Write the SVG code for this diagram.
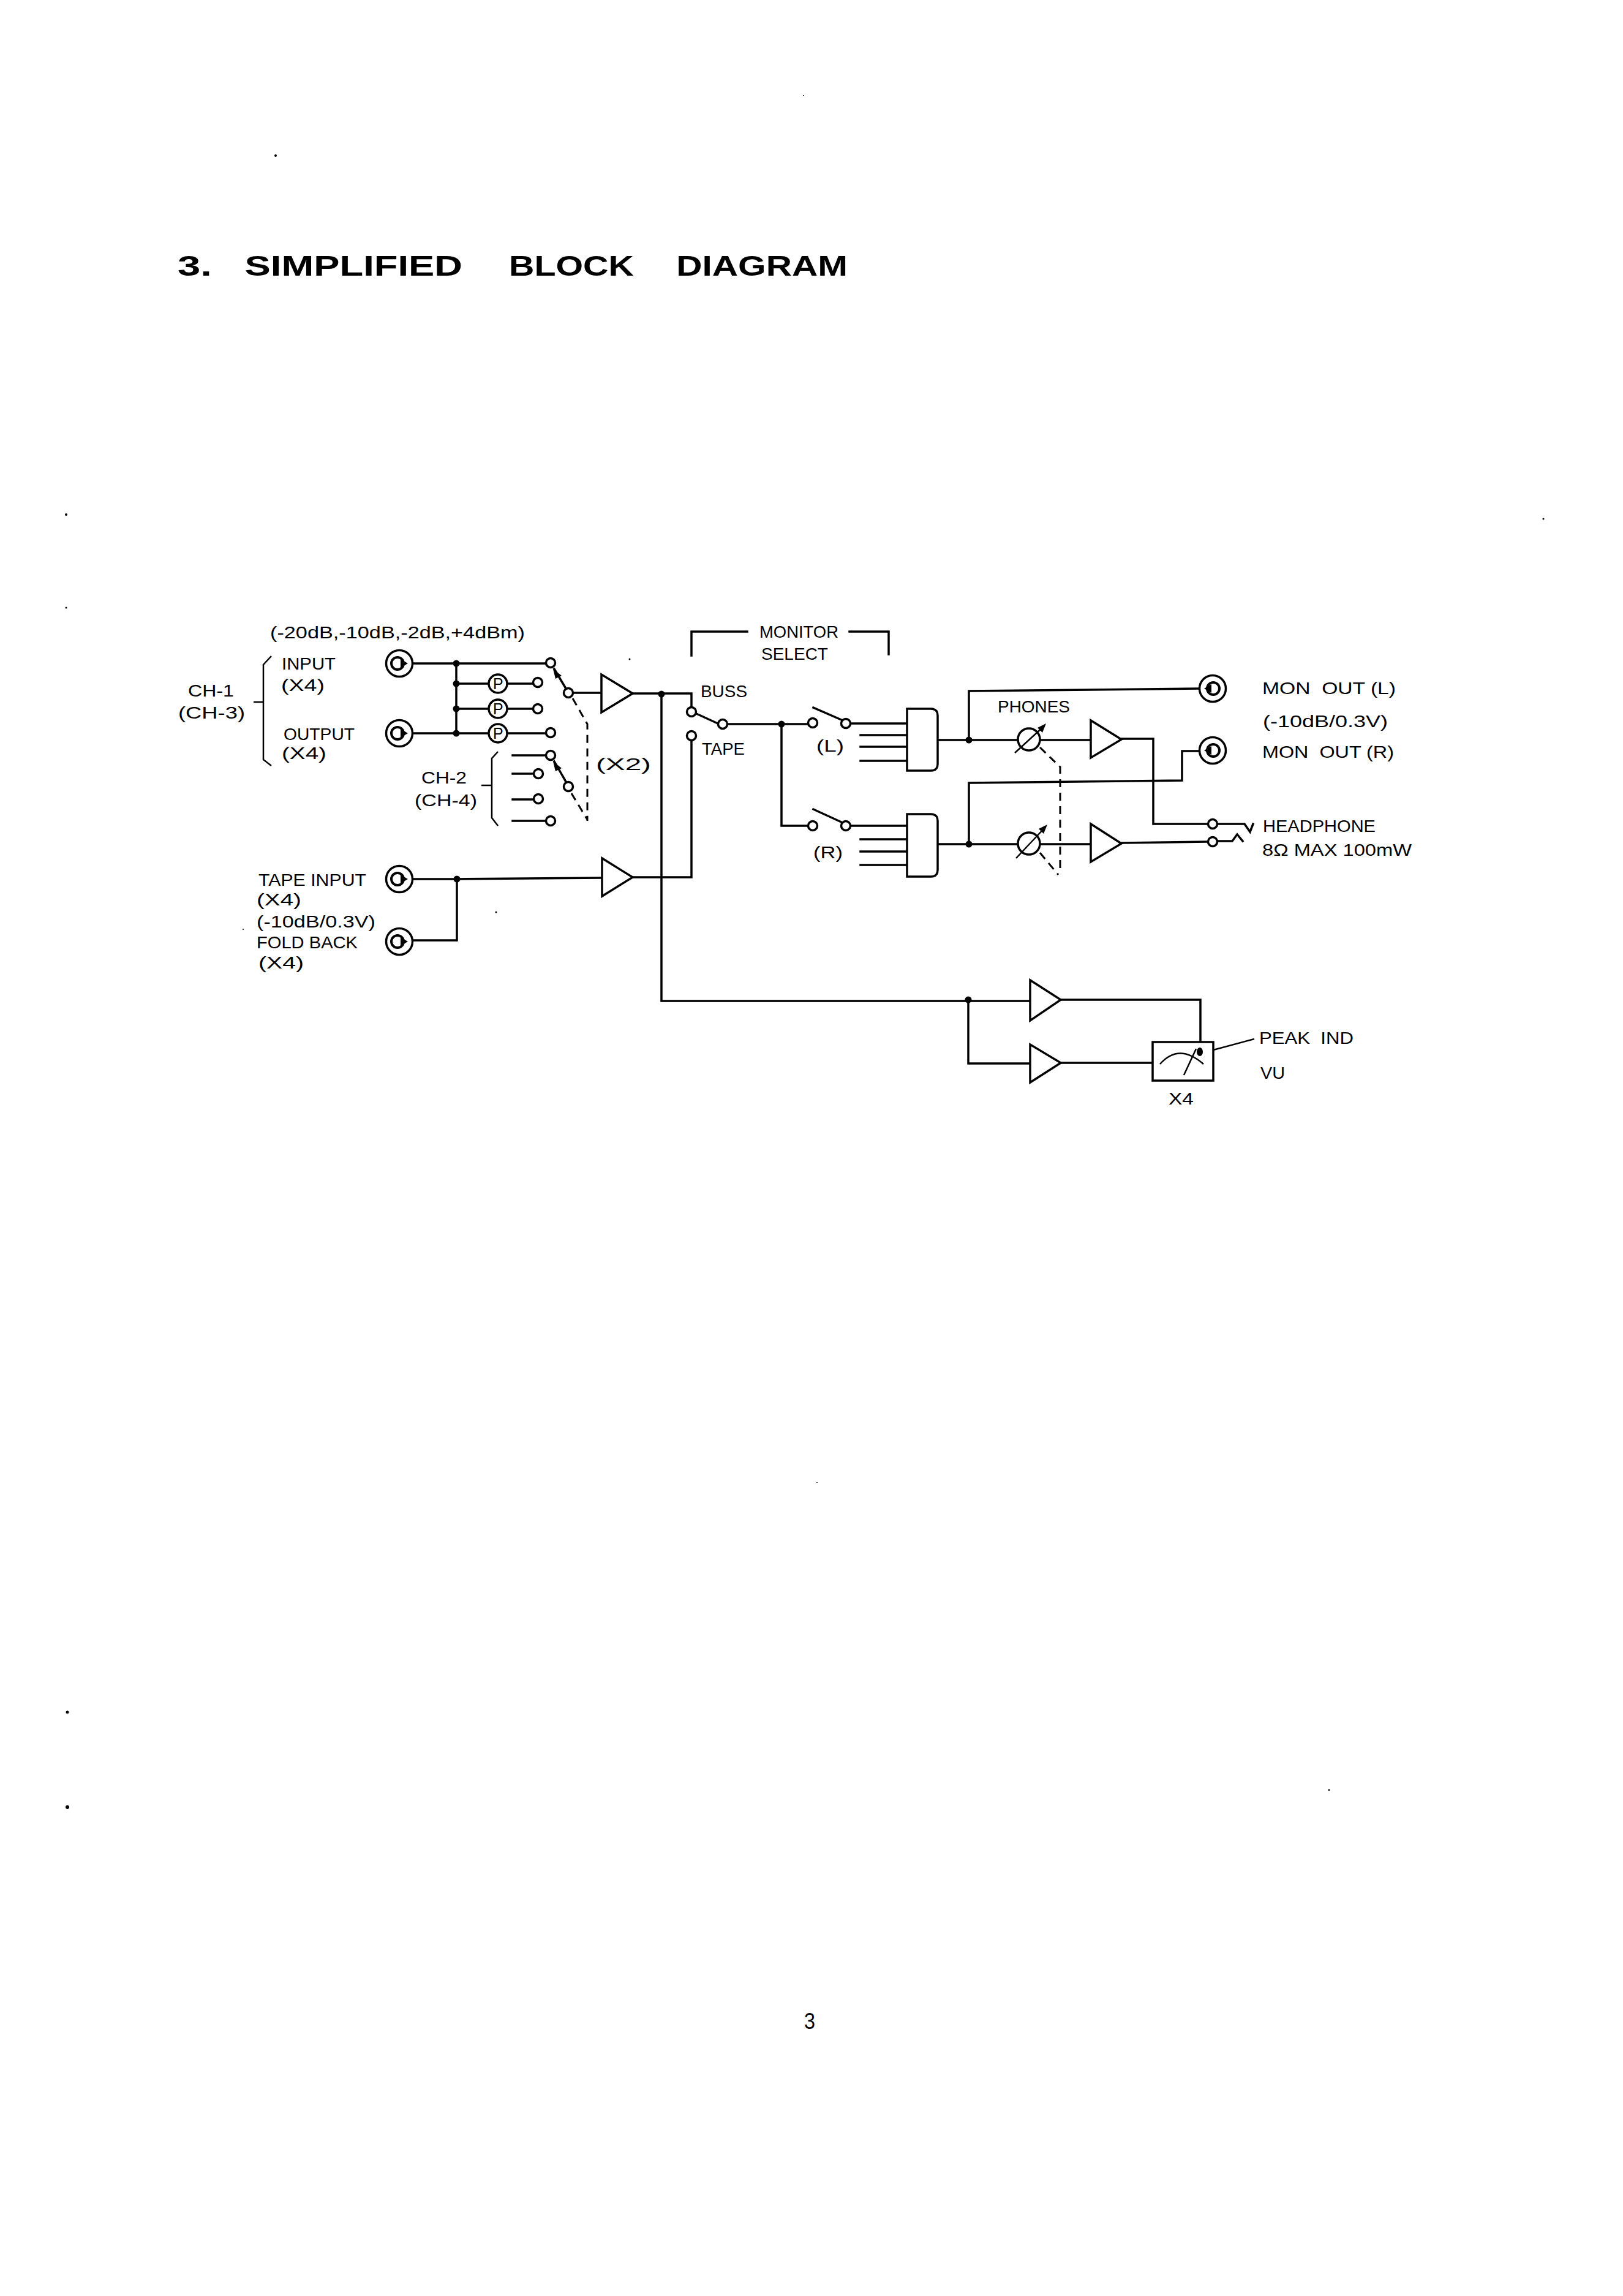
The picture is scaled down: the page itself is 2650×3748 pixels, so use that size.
<svg xmlns="http://www.w3.org/2000/svg" width="2650" height="3748" viewBox="0 0 2650 3748">
<style>
text{font-family:"Liberation Sans",Arial,sans-serif;font-size:28px;fill:#000;white-space:pre}
.title{font-size:47px;font-weight:700}
.w{fill:none;stroke:#000;stroke-width:3.5;stroke-linejoin:miter;stroke-linecap:square}
.thin{fill:none;stroke:#000;stroke-width:2.5}
.d{fill:none;stroke:#000;stroke-width:3;stroke-dasharray:13 9}
.o{fill:#fff;stroke:#000;stroke-width:3.5}
.n{fill:none;stroke:#000;stroke-width:4}
.b{fill:#000}
</style>
<defs>
<g id="jackIn"><circle r="21.5" class="o"/><circle cx="-3" r="10" class="n"/><path d="M2-7L14 0L2 7Z" class="b"/></g>
<g id="jackOut"><circle r="21.5" class="o"/><circle cx="1" r="10" class="n"/><path d="M-2-7L-14 0L-2 7Z" class="b"/></g>
<circle id="c" r="7.5" class="o"/>
<circle id="j" r="5.5" class="b"/>
<g id="pad"><circle r="15" class="o"/><text x="-8" y="9" style="font-size:25px">P</text></g>
<g id="pot"><ellipse rx="18" ry="18" class="o"/></g>
</defs>
<g id="title"><text class="title" y="450"><tspan x="290" textLength="56" lengthAdjust="spacingAndGlyphs">3.</tspan><tspan x="382" dx="0" textLength="373" lengthAdjust="spacingAndGlyphs"> SIMPLIFIED</tspan><tspan x="815" textLength="220" lengthAdjust="spacingAndGlyphs"> BLOCK</tspan><tspan x="1088" textLength="296" lengthAdjust="spacingAndGlyphs"> DIAGRAM</tspan></text></g>

<g id="connectors">
<path class="w" d="M652 1083H891M745 1083V1197M745 1116H878M745 1157H878M652 1197H891"/>
<path class="w" d="M905 1092L924 1124M936 1131H982M1033 1132H1129V1154M1129 1209V1432H1033"/>
<path class="w" d="M837 1233H891M837 1263H871M837 1305H871M837 1340H891M905 1243L924 1276"/>
<path class="w" d="M652 1435L745 1435L983 1433M674 1535H746V1435"/>
<path class="w" d="M1080 1133V1634H1682M1581 1632V1736H1682M1732 1632H1960V1717M1732 1735H1882"/>
<path class="w" d="M1137 1165L1172 1181M1188 1182H1319M1276 1182V1348H1319M1328 1155L1376 1176M1328 1321L1376 1343"/>
<path class="w" d="M1389 1181H1481M1405 1200H1481M1405 1219H1481M1405 1242H1481M1389 1348H1481M1405 1370H1481M1405 1390H1481M1405 1412H1481"/>
<path class="w" d="M1531 1208H1781M1531 1378H1781M1582 1208V1128L1958 1124M1582 1378V1278L1930 1274V1226H1958"/>
<path class="w" d="M1832 1206H1883V1345H1972M1832 1376L1972 1374M1988 1345H2032L2041 1358L2046 1345M1988 1373H2012L2020 1362L2029 1373"/>
<path class="d" d="M935 1140L959 1182V1340M933 1295L959 1338"/>
<path class="d" d="M1698 1220L1731 1252V1425M1698 1392L1728 1428"/>
<path class="thin" d="M1981 1714L2048 1696"/>
</g>

<g id="jack-input"><use href="#jackIn" x="652" y="1083"/></g>
<g id="jack-output"><use href="#jackIn" x="652" y="1197"/></g>
<g id="jack-tape"><use href="#jackIn" x="652" y="1435"/></g>
<g id="jack-foldback"><use href="#jackIn" x="652" y="1537"/></g>
<g id="jack-mon-l"><use href="#jackOut" x="1980" y="1124"/></g>
<g id="jack-mon-r"><use href="#jackOut" x="1980" y="1225"/></g>

<g id="junctions">
<use href="#j" x="745" y="1083"/><use href="#j" x="745" y="1116"/><use href="#j" x="745" y="1157"/><use href="#j" x="745" y="1197"/>
<use href="#j" x="746" y="1435"/><use href="#j" x="1080" y="1133"/><use href="#j" x="1276" y="1182"/><use href="#j" x="1582" y="1208"/><use href="#j" x="1582" y="1378"/><use href="#j" x="1581" y="1632"/>
</g>

<g id="pad1"><use href="#pad" x="813" y="1116"/></g>
<g id="pad2"><use href="#pad" x="813" y="1157"/></g>
<g id="pad3"><use href="#pad" x="813" y="1197"/></g>

<g id="switch-ch1">
<use href="#c" x="899" y="1082"/><use href="#c" x="878" y="1114"/><use href="#c" x="878" y="1157"/><use href="#c" x="899" y="1196"/><use href="#c" x="928" y="1131"/>
<path class="b" d="M903 1092L907 1108L917 1103Z"/>
</g>
<g id="switch-ch2">
<use href="#c" x="899" y="1233"/><use href="#c" x="879" y="1263"/><use href="#c" x="879" y="1304"/><use href="#c" x="899" y="1340"/><use href="#c" x="928" y="1284"/>
<path class="b" d="M903 1243L907 1259L917 1254Z"/>
</g>
<g id="brace-ch1"><path class="thin" d="M443 1071L430 1085V1240L443 1250M414 1146H430"/></g>
<g id="brace-ch2"><path class="thin" d="M813 1227L803 1238V1335L813 1348M786 1282H803"/></g>

<g id="amp-input"><path class="o" d="M982 1101V1163L1033 1132Z"/></g>
<g id="amp-tape"><path class="o" d="M983 1401V1463L1033 1432Z"/></g>
<g id="amp-phones-l"><path class="o" d="M1781 1176V1237L1831 1207Z"/></g>
<g id="amp-phones-r"><path class="o" d="M1781 1345V1407L1831 1377Z"/></g>
<g id="amp-peak"><path class="o" d="M1682 1600V1666L1732 1632Z"/></g>
<g id="amp-vu"><path class="o" d="M1682 1705V1767L1732 1735Z"/></g>

<g id="monitor-bracket"><path class="w" d="M1129 1070V1031H1220M1387 1031H1451V1068"/></g>
<g id="monitor-select-switch"><use href="#c" x="1129" y="1162"/><use href="#c" x="1129" y="1201"/><use href="#c" x="1180" y="1182"/></g>
<g id="switch-l"><use href="#c" x="1327" y="1180"/><use href="#c" x="1381" y="1181"/></g>
<g id="switch-r"><use href="#c" x="1327" y="1348"/><use href="#c" x="1381" y="1348"/></g>
<g id="mix-l"><path class="o" d="M1481 1157H1520Q1531 1157 1531 1168V1247Q1531 1258 1520 1258H1481Z"/></g>
<g id="mix-r"><path class="o" d="M1481 1329H1520Q1531 1329 1531 1340V1420Q1531 1431 1520 1431H1481Z"/></g>
<g id="pot-l"><use href="#pot" x="1680" y="1207"/><path class="thin" d="M1657 1229L1705 1185"/><path class="b" d="M1708 1181L1694 1188L1702 1196Z"/></g>
<g id="pot-r"><use href="#pot" x="1680" y="1377"/><path class="thin" d="M1659 1401L1707 1350"/><path class="b" d="M1710 1346L1696 1353L1704 1361Z"/></g>
<g id="hp-contacts"><use href="#c" x="1980" y="1345"/><use href="#c" x="1980" y="1374"/></g>
<g id="vu-meter"><rect x="1882" y="1701" width="99" height="63" class="o"/><path class="thin" d="M1894 1737Q1925 1702 1965 1737M1933 1755L1953 1712"/><ellipse cx="1959" cy="1717" rx="5" ry="7" class="b"/></g>

<g id="labels">
<text x="441" y="1042" textLength="416" lengthAdjust="spacingAndGlyphs">(-20dB,-10dB,-2dB,+4dBm)</text>
<text x="460" y="1093" textLength="88" lengthAdjust="spacingAndGlyphs">INPUT</text>
<text x="459" y="1128" textLength="71" lengthAdjust="spacingAndGlyphs">(X4)</text>
<text x="307" y="1137" textLength="75" lengthAdjust="spacingAndGlyphs">CH-1</text>
<text x="291" y="1173" textLength="109" lengthAdjust="spacingAndGlyphs">(CH-3)</text>
<text x="463" y="1208" textLength="116" lengthAdjust="spacingAndGlyphs">OUTPUT</text>
<text x="460" y="1239" textLength="73" lengthAdjust="spacingAndGlyphs">(X4)</text>
<text x="688" y="1279" textLength="74" lengthAdjust="spacingAndGlyphs">CH-2</text>
<text x="677" y="1316" textLength="102" lengthAdjust="spacingAndGlyphs">(CH-4)</text>
<text x="973" y="1257" textLength="90" lengthAdjust="spacingAndGlyphs">(X2)</text>
<text x="422" y="1446" textLength="176" lengthAdjust="spacingAndGlyphs">TAPE INPUT</text>
<text x="419" y="1478" textLength="73" lengthAdjust="spacingAndGlyphs">(X4)</text>
<text x="419" y="1514" textLength="194" lengthAdjust="spacingAndGlyphs">(-10dB/0.3V)</text>
<text x="419" y="1548" textLength="165" lengthAdjust="spacingAndGlyphs">FOLD BACK</text>
<text x="422" y="1581" textLength="74" lengthAdjust="spacingAndGlyphs">(X4)</text>
<text x="1240" y="1041" textLength="129" lengthAdjust="spacingAndGlyphs">MONITOR</text>
<text x="1243" y="1077" textLength="109" lengthAdjust="spacingAndGlyphs">SELECT</text>
<text x="1144" y="1138" textLength="76" lengthAdjust="spacingAndGlyphs">BUSS</text>
<text x="1146" y="1232" textLength="70" lengthAdjust="spacingAndGlyphs">TAPE</text>
<text x="1333" y="1227" textLength="45" lengthAdjust="spacingAndGlyphs">(L)</text>
<text x="1328" y="1401" textLength="48" lengthAdjust="spacingAndGlyphs">(R)</text>
<text x="1629" y="1163" textLength="118" lengthAdjust="spacingAndGlyphs">PHONES</text>
<text x="2061" y="1133" textLength="218" lengthAdjust="spacingAndGlyphs">MON  OUT (L)</text>
<text x="2062" y="1187" textLength="204" lengthAdjust="spacingAndGlyphs">(-10dB/0.3V)</text>
<text x="2061" y="1237" textLength="215" lengthAdjust="spacingAndGlyphs">MON  OUT (R)</text>
<text x="2062" y="1358" textLength="184" lengthAdjust="spacingAndGlyphs">HEADPHONE</text>
<text x="2061" y="1397" textLength="244" lengthAdjust="spacingAndGlyphs">8Ω MAX 100mW</text>
<text x="2056" y="1704" textLength="154" lengthAdjust="spacingAndGlyphs">PEAK  IND</text>
<text x="2058" y="1761" textLength="40" lengthAdjust="spacingAndGlyphs">VU</text>
<text x="1908" y="1803" textLength="41" lengthAdjust="spacingAndGlyphs">X4</text>
<text x="1313" y="3312" textLength="18" lengthAdjust="spacingAndGlyphs" style="font-size:36px">3</text>
</g>
<g id="specks" class="b">
<circle cx="450" cy="254" r="2"/><circle cx="1312" cy="156" r="1"/><circle cx="108" cy="840" r="2"/><circle cx="2520" cy="847" r="1.5"/><circle cx="108" cy="992" r="1.5"/><circle cx="110" cy="2795" r="2.5"/><circle cx="110" cy="2950" r="3"/><circle cx="1334" cy="2420" r="1"/><circle cx="2170" cy="2922" r="1.5"/><circle cx="1028" cy="1076" r="1.5"/><circle cx="810" cy="1489" r="1.5"/><circle cx="397" cy="1517" r="1"/>
</g>
</svg>
